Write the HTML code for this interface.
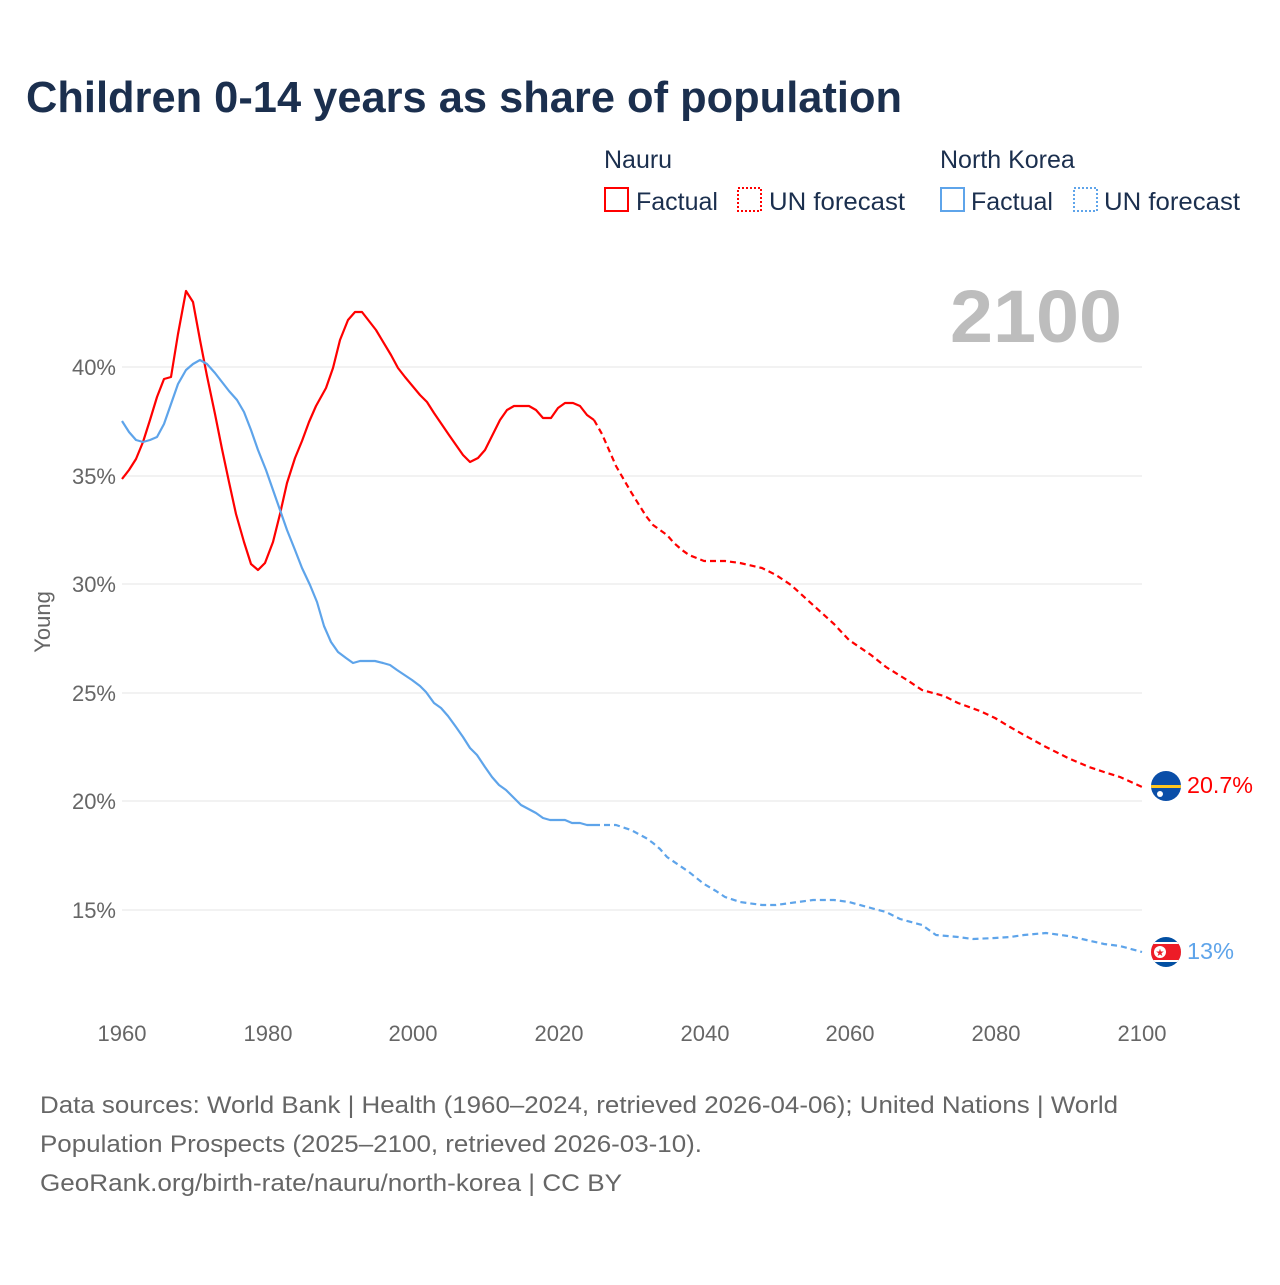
<!DOCTYPE html>
<html><head><meta charset="utf-8"><style>
body{margin:0;width:1280px;height:1280px;background:#fff;font-family:"Liberation Sans",sans-serif;overflow:hidden}
</style></head><body>
<svg width="1280" height="1280" xmlns="http://www.w3.org/2000/svg" font-family="Liberation Sans, sans-serif">
<text x="26" y="112" font-size="44" font-weight="bold" fill="#1b2f4e" textLength="876" lengthAdjust="spacingAndGlyphs">Children 0-14 years as share of population</text>
<g font-size="25" fill="#1b2f4e">
<text x="604" y="168">Nauru</text>
<text x="940" y="168">North Korea</text>
<rect x="605" y="188" width="23" height="23" fill="none" stroke="#f00" stroke-width="2"/>
<text x="636" y="210">Factual</text>
<rect x="738" y="188" width="23" height="23" fill="none" stroke="#f00" stroke-width="2" stroke-dasharray="2,2"/>
<text x="769" y="210" textLength="136" lengthAdjust="spacingAndGlyphs">UN forecast</text>
<rect x="941" y="188" width="23" height="23" fill="none" stroke="#5ea4ea" stroke-width="2"/>
<text x="971" y="210">Factual</text>
<rect x="1074" y="188" width="23" height="23" fill="none" stroke="#5ea4ea" stroke-width="2" stroke-dasharray="2,2"/>
<text x="1104" y="210" textLength="136" lengthAdjust="spacingAndGlyphs">UN forecast</text>
</g>
<text x="1122" y="342" font-size="74" font-weight="bold" fill="#bdbdbd" text-anchor="end" textLength="172" lengthAdjust="spacingAndGlyphs">2100</text>
<g stroke="#e6e6e6" stroke-width="1">
<line x1="122" x2="1142" y1="367" y2="367"/><line x1="122" x2="1142" y1="476" y2="476"/><line x1="122" x2="1142" y1="584" y2="584"/><line x1="122" x2="1142" y1="693" y2="693"/><line x1="122" x2="1142" y1="801" y2="801"/><line x1="122" x2="1142" y1="910" y2="910"/>
</g>
<g font-size="22" fill="#666" text-anchor="end">
<text x="116" y="375">40%</text><text x="116" y="484">35%</text><text x="116" y="592">30%</text><text x="116" y="701">25%</text><text x="116" y="809">20%</text><text x="116" y="918">15%</text>
</g>
<text transform="translate(50,622) rotate(-90)" font-size="22" fill="#666" text-anchor="middle">Young</text>
<g font-size="22" fill="#666" text-anchor="middle">
<text x="122" y="1041">1960</text><text x="268" y="1041">1980</text><text x="413" y="1041">2000</text><text x="559" y="1041">2020</text><text x="705" y="1041">2040</text><text x="850" y="1041">2060</text><text x="996" y="1041">2080</text><text x="1142" y="1041">2100</text>
</g>
<g fill="none" stroke-width="2.2" stroke-linejoin="round">
<polyline stroke="#f00" points="122,479 129,470 136,459 143,442 150,420 157,397 164,379 171,377 178,334 186,291 193,302 200,340 207,376 215,414 222,449 229,482 236,514 244,542 251,564 258,570 265,563 273,542 280,514 287,483 295,458 302,441 309,422 316,406 326,388 333,368 340,340 348,320 355,312 362,312 376,330 391,355 398,368 405,377 420,395 427,402 434,413 449,435 463,455 470,462 478,458 485,450 492,436 500,420 507,410 514,406 529,406 536,410 543,418 551,418 558,408 565,403 573,403 580,406 587,415 594,420"/>
<polyline stroke="#f00" stroke-dasharray="6,4" points="594,420 602,434 616,466 631,492 646,516 653,525 667,535 674,543 682,550 689,555 704,561 725,561 740,563 762,568 776,575 791,585 813,605 834,624 849,640 871,655 886,667 907,680 922,690 944,696 958,703 980,711 995,718 1010,727 1024,735 1046,747 1068,758 1089,767 1104,772 1120,777 1142,787"/>
<polyline stroke="#5ea4ea" points="122,421 129,432 136,440 143,442 150,440 157,437 164,424 171,404 178,384 186,370 193,364 200,360 207,364 215,373 222,382 229,391 237,400 244,412 251,430 258,450 266,470 273,490 280,510 287,530 295,550 302,568 310,585 317,602 324,626 331,642 338,652 346,658 353,663 360,661 375,661 383,663 390,665 397,670 412,680 420,686 426,692 434,703 441,708 448,716 456,727 463,737 470,748 477,755 485,767 492,777 499,785 506,790 514,798 521,805 536,813 543,818 550,820 565,820 572,823 580,823 587,825 594,825"/>
<polyline stroke="#5ea4ea" stroke-dasharray="6,4" points="594,825 616,825 631,830 646,838 653,843 660,849 667,857 689,872 704,884 716,891 725,897 740,902 762,905 776,905 798,902 813,900 834,900 849,902 871,908 886,912 900,919 922,925 936,935 958,937 973,939 995,938 1010,937 1024,935 1046,933 1068,936 1082,939 1104,944 1120,946 1142,952"/>
</g>
<g>
<clipPath id="c1"><circle cx="1166" cy="786" r="15"/></clipPath>
<circle cx="1166" cy="786" r="15" fill="#0a4ea8"/>
<rect x="1150" y="785" width="32" height="3" fill="#ffc61e" clip-path="url(#c1)"/>
<circle cx="1160" cy="794" r="3" fill="#fff"/>
<clipPath id="c2"><circle cx="1166" cy="952" r="15"/></clipPath>
<circle cx="1166" cy="952" r="15" fill="#024fa2"/>
<rect x="1150" y="942" width="32" height="20" fill="#fff" clip-path="url(#c2)"/>
<rect x="1150" y="944" width="32" height="16" fill="#ed1c27" clip-path="url(#c2)"/>
<circle cx="1160" cy="952" r="6" fill="#fff"/>
<text x="1160" y="956" font-size="10" fill="#ed1c27" text-anchor="middle">★</text>
</g>
<text x="1187" y="793" font-size="23" fill="#f00" textLength="66" lengthAdjust="spacingAndGlyphs">20.7%</text>
<text x="1187" y="959" font-size="23" fill="#5ea4ea" textLength="47" lengthAdjust="spacingAndGlyphs">13%</text>
<g font-size="24" fill="#666">
<text x="40" y="1113" textLength="1078" lengthAdjust="spacingAndGlyphs">Data sources: World Bank | Health (1960–2024, retrieved 2026-04-06); United Nations | World</text>
<text x="40" y="1152" textLength="662" lengthAdjust="spacingAndGlyphs">Population Prospects (2025–2100, retrieved 2026-03-10).</text>
<text x="40" y="1191" textLength="582" lengthAdjust="spacingAndGlyphs">GeoRank.org/birth-rate/nauru/north-korea | CC BY</text>
</g>
</svg>
</body></html>
